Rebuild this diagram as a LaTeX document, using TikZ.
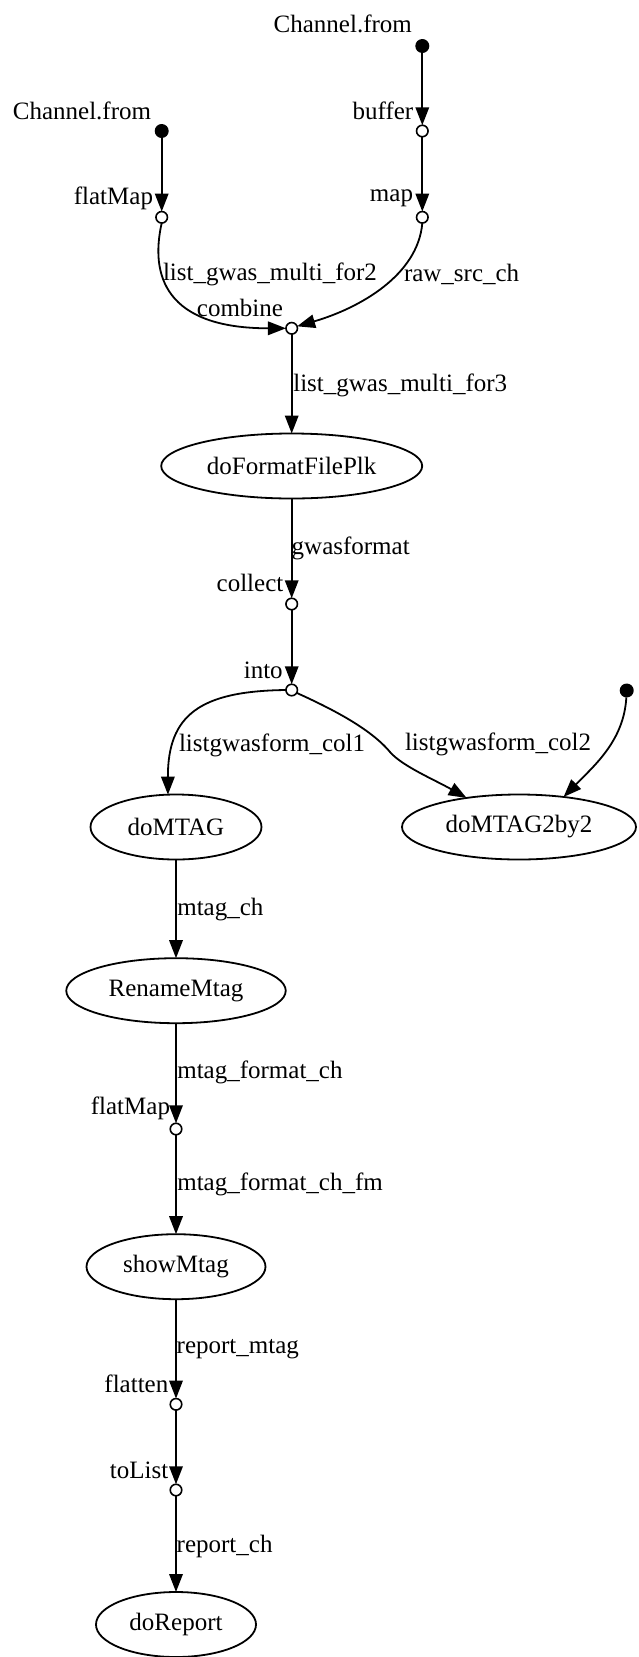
\documentclass[tikz,border=0pt]{standalone}
\usepackage{fontspec}
\setmainfont{Liberation Serif}
\usetikzlibrary{arrows.meta,shapes.geometric}
\begin{document}
\begin{tikzpicture}[x=1pt,y=-1pt,
  every node/.style={font=\fontsize{25}{30}\selectfont, inner sep=0pt, outer sep=0pt},
  dot/.style={circle, fill=black, minimum size=14pt},
  op/.style={circle, draw, fill=white, line width=1.6pt, minimum size=11.5pt},
  proc/.style={ellipse, draw, line width=1.8pt, minimum height=65pt},
  arr/.style={line width=1.8pt, -{Triangle[length=18pt,width=13.5pt]}},
  lab/.style={anchor=west},
  xlab/.style={anchor=east},
]
\useasboundingbox (0,0) rectangle (638,1657);

% operator / source nodes
\node[dot] (src1) at (422.3,46) {};
\node[op]  (buffer) at (422.3,131) {};
\node[op]  (map) at (422.3,217.3) {};
\node[dot] (src2) at (161.7,131) {};
\node[op]  (fm1) at (161.7,217.3) {};
\node[op]  (combine) at (291.7,328.3) {};
\node[proc, minimum width=261pt] (fmt) at (291.7,466) {doFormatFilePlk};
\node[op]  (collect) at (291.7,604) {};
\node[op]  (into) at (291.7,690) {};
\node[dot] (src3) at (626.7,690.5) {};
\node[proc, minimum width=171pt] (mtag) at (176,827) {doMTAG};
\node[proc, minimum width=234pt] (mtag2) at (519,827) {doMTAG2by2};
\node[proc, minimum width=219.5pt] (rename) at (176,990.7) {RenameMtag};
\node[op]  (fm2) at (176,1129) {};
\node[proc, minimum width=179pt] (show) at (176,1266.7) {showMtag};
\node[op]  (flatten) at (176,1404.3) {};
\node[op]  (tolist) at (176,1490) {};
\node[proc, minimum width=160pt] (report) at (176,1624.5) {doReport};

% operator labels
\node (l1) at (342.8,24) {Channel.from};
\node (l2) at (82,111) {Channel.from};
\node[xlab] (l3) at (413.3,111) {buffer};
\node[xlab] (l4) at (153,198) {flatMap};
\node[xlab] (l5) at (413,198) {map};
\node[xlab] (l6) at (283,308) {combine};
\node[xlab] (l7) at (283.3,583.3) {collect};
\node[xlab] (l8) at (282.7,670) {into};
\node[xlab] (l9) at (170,1108.3) {flatMap};
\node[xlab] (l10) at (168.3,1384) {flatten};
\node[xlab] (l11) at (168.3,1470.7) {toList};

% edge labels
\node[lab] (e1) at (163,274) {list\_gwas\_multi\_for2};
\node[lab] (e2) at (404,274) {raw\_src\_ch};
\node[lab] (e3) at (293.3,385) {list\_gwas\_multi\_for3};
\node[lab] (e4) at (291.7,548.3) {gwasformat};
\node[lab] (e5) at (179,745) {listgwasform\_col1};
\node[lab] (e6) at (405,744) {listgwasform\_col2};
\node[lab] (e7) at (177.3,910) {mtag\_ch};
\node[lab] (e8) at (177.3,1072.7) {mtag\_format\_ch};
\node[lab] (e9) at (177.3,1184) {mtag\_format\_ch\_fm};
\node[lab] (e10) at (176.7,1349.3) {report\_mtag};
\node[lab] (e11) at (176.7,1546.7) {report\_ch};

% connectors
\draw[arr] (src1) -- (buffer);
\draw[arr] (buffer) -- (map);
\draw[arr] (src2) -- (fm1);
\draw[arr] (fm1.south) .. controls (150,275) and (165,328.3) .. (combine.west);
\draw[arr] (map.south) .. controls (418,275) and (360,308) .. (combine.20);
\draw[arr] (combine) -- (fmt);
\draw[arr] (fmt) -- (collect);
\draw[arr] (collect) -- (into);
\draw[arr] (into.west) .. controls (200,691) and (167.7,715) .. (mtag.104);
\draw[arr] (into.-30) .. controls (330,708) and (370,728) .. (390,752)
           .. controls (402,766) and (435,780) .. (mtag2.151);
\draw[arr] (src3) .. controls (624,740) and (595,765) .. (mtag2.34.5);
\draw[arr] (mtag) -- (rename);
\draw[arr] (rename) -- (fm2);
\draw[arr] (fm2) -- (show);
\draw[arr] (show) -- (flatten);
\draw[arr] (flatten) -- (tolist);
\draw[arr] (tolist) -- (report);
\end{tikzpicture}
\end{document}
